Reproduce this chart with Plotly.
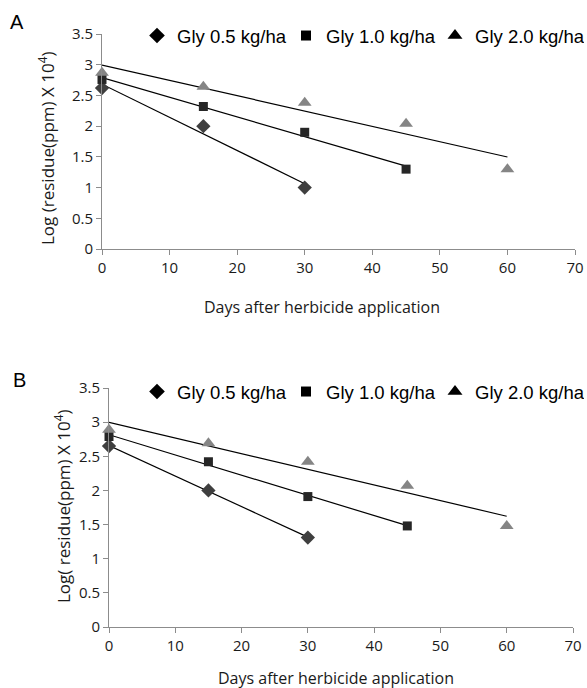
import numpy as np
import plotly.graph_objects as go

W, H = 587, 688

# ---------------- data ----------------
series_names = ["Gly 0.5 kg/ha", "Gly 1.0 kg/ha", "Gly 2.0 kg/ha"]

days_05 = [0, 15, 30]
days_10 = [0, 15, 30, 45]
days_20 = [0, 15, 30, 45, 60]

# Panel A
a_05 = [2.62, 2.00, 1.00]
a_10 = [2.76, 2.32, 1.90, 1.30]
a_20 = [2.87, 2.64, 2.38, 2.04, 1.30]

# Panel B
b_05 = [2.65, 2.00, 1.31]
b_10 = [2.79, 2.42, 1.91, 1.48]
b_20 = [2.89, 2.69, 2.42, 2.07, 1.48]

x_ticks = [0, 10, 20, 30, 40, 50, 60, 70]
y_ticks = [0, 0.5, 1, 1.5, 2, 2.5, 3, 3.5]

# ---------------- style ----------------
symbols = ["diamond", "square", "triangle-up"]
marker_colors = ["#3f3f3f", "#262626", "#858585"]
marker_sizes = [11, 9, 12]
axis_color = "#8c8c8c"
tick_font = dict(family="Open Sans", size=15, color="#1a1a1a")
legend_font = dict(family="Liberation Sans", size=18.5, color="#000000")
title_font = dict(family="Open Sans", size=16, color="#1a1a1a")
ytitle_font = dict(family="Open Sans", size=17, color="#1a1a1a")


def px_x(p):
    return p / W


def px_y(p):
    return 1 - p / H


fig = go.Figure()

panels = [
    dict(xa="x", ya="y", legend="legend",
         data=[(days_05, a_05), (days_10, a_10), (days_20, a_20)]),
    dict(xa="x2", ya="y2", legend="legend2",
         data=[(days_05, b_05), (days_10, b_10), (days_20, b_20)]),
]

for p in panels:
    # trendlines (linear fit of each series, as in the original spreadsheet chart)
    for (xs, ys) in p["data"]:
        k, b = np.polyfit(xs, ys, 1)
        xe = [xs[0], xs[-1]]
        fig.add_trace(go.Scatter(
            x=xe, y=[k * v + b for v in xe], mode="lines",
            line=dict(color="#000000", width=1.2),
            xaxis=p["xa"], yaxis=p["ya"], showlegend=False, hoverinfo="skip",
            cliponaxis=False))
    # data markers
    for i, (xs, ys) in enumerate(p["data"]):
        fig.add_trace(go.Scatter(
            x=xs, y=ys, mode="markers", name=series_names[i],
            marker=dict(symbol=symbols[i], color=marker_colors[i], size=marker_sizes[i]),
            xaxis=p["xa"], yaxis=p["ya"], showlegend=False, cliponaxis=False))
    # legend entries (black symbols)
    for i in range(3):
        fig.add_trace(go.Scatter(
            x=[None], y=[None], mode="markers", name=series_names[i],
            marker=dict(symbol=symbols[i], color="#000000", size=marker_sizes[i] + 1),
            xaxis=p["xa"], yaxis=p["ya"], legend=p["legend"], showlegend=True))

axis_common = dict(
    showgrid=False, zeroline=False, showline=True, linecolor=axis_color, linewidth=1,
    ticks="outside", ticklen=5, tickcolor=axis_color, tickwidth=1,
    tickfont=tick_font, automargin=False, fixedrange=True,
)

legend_common = dict(orientation="h", xanchor="left", yanchor="middle", font=legend_font,
                     entrywidth=104, entrywidthmode="pixels", bgcolor="rgba(0,0,0,0)",
                     tracegroupgap=0, itemwidth=30)

fig.update_layout(
    width=W, height=H,
    margin=dict(l=0, r=0, t=0, b=0, autoexpand=False),
    paper_bgcolor="white", plot_bgcolor="white",
    xaxis=dict(axis_common, domain=[px_x(102), px_x(575)], range=[0, 70],
               tickvals=x_ticks, anchor="y"),
    yaxis=dict(axis_common, domain=[px_y(249), px_y(34)], range=[0, 3.5],
               tickvals=y_ticks, anchor="x"),
    xaxis2=dict(axis_common, domain=[px_x(109), px_x(573)], range=[0, 70],
                tickvals=x_ticks, anchor="y2"),
    yaxis2=dict(axis_common, domain=[px_y(627), px_y(388)], range=[0, 3.5],
                tickvals=y_ticks, anchor="x2"),
    legend=dict(legend_common, x=px_x(137), y=px_y(36)),
    legend2=dict(legend_common, x=px_x(137), y=px_y(392)),
    showlegend=True,
)

ann = [
    dict(text="A", x=px_x(17), y=px_y(22), font=dict(family="Liberation Sans", size=20, color="#000")),
    dict(text="B", x=px_x(19), y=px_y(380), font=dict(family="Liberation Sans", size=20, color="#000")),
    dict(text="Days after herbicide application", x=px_x(322), y=px_y(307), font=title_font),
    dict(text="Days after herbicide application", x=px_x(336), y=px_y(678), font=title_font),
    dict(text="Log (residue(ppm) X 10<sup>4</sup>)", x=px_x(47), y=px_y(148),
         textangle=-90, font=ytitle_font),
    dict(text="Log( residue(ppm) X 10<sup>4</sup>)", x=px_x(62), y=px_y(506),
         textangle=-90, font=ytitle_font),
]
for a in ann:
    fig.add_annotation(xref="paper", yref="paper", showarrow=False,
                       xanchor="center", yanchor="middle", **a)

fig.write_html("out.html", config={"displayModeBar": False},
               post_script="document.body.style.margin='0px';document.body.style.overflow='hidden';")
